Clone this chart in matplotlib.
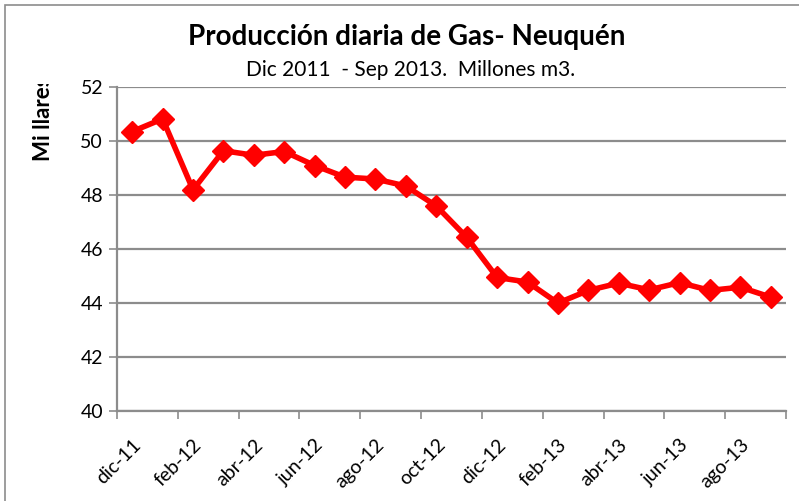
import numpy as np
import matplotlib.pyplot as plt
from matplotlib.patches import Rectangle
from matplotlib.transforms import Bbox

# monthly data dic-11 .. sep-13
months = ['dic-11', 'ene-12', 'feb-12', 'mar-12', 'abr-12', 'may-12', 'jun-12',
          'jul-12', 'ago-12', 'sep-12', 'oct-12', 'nov-12', 'dic-12', 'ene-13',
          'feb-13', 'mar-13', 'abr-13', 'may-13', 'jun-13', 'jul-13', 'ago-13', 'sep-13']
gas = [50.36, 50.83, 48.20, 49.65, 49.48, 49.62, 49.10, 48.67, 48.60, 48.34, 47.60,
       46.44, 44.95, 44.78, 44.00, 44.47, 44.74, 44.49, 44.76, 44.47, 44.59, 44.22]
yticks = [40, 42, 44, 46, 48, 50, 52]

plt.rcParams['font.family'] = ['Lato', 'DejaVu Sans']

W, H = 799, 501
fig = plt.figure(figsize=(W / 100, H / 100), dpi=100)
fig.patches.append(Rectangle((5 / W, -0.1), 1.2, 1 - 5 / H + 0.1, transform=fig.transFigure,
                             fill=False, edgecolor='#8c8c8c', linewidth=1.2))

ax = fig.add_axes([117 / W, 1 - 411 / H, (786 - 117) / W, (411 - 87.3) / H])
x = np.arange(len(months))
ax.plot(x, gas, color='#ff0000', linewidth=4, marker='D', markersize=11,
        markeredgecolor='#ff0000', zorder=3)

ax.set_xlim(-0.5, len(months) - 0.5)
ax.set_ylim(40, 52)
ax.set_yticks(yticks)
ax.set_yticklabels([str(v) for v in yticks], fontsize=14)
ax.grid(axis='y', color='#8c8c8c', linewidth=1.6)
ax.set_axisbelow(True)

ax.set_xticks(x[::2])
ax.set_xticklabels(months[::2], rotation=45, ha='right', rotation_mode='anchor', fontsize=14)
ax.tick_params(axis='x', which='major', length=0, pad=18)
ax.set_xticks(np.arange(-0.5, len(months), 2), minor=True)
ax.tick_params(axis='x', which='minor', length=6, width=1.2, color='#8c8c8c', direction='out')
ax.tick_params(axis='y', length=6, width=1.2, color='#8c8c8c', direction='out', pad=4)

for s in ['top', 'right']:
    ax.spines[s].set_visible(False)
for s in ['left', 'bottom']:
    ax.spines[s].set_color('#8c8c8c')
    ax.spines[s].set_linewidth(1.6)

fig.text(407 / W, 1 - 37 / H, 'Producción diaria de Gas- Neuquén', ha='center', va='center',
         fontsize=20, fontweight='bold')
fig.text(411 / W, 1 - 70 / H, 'Dic 2011  - Sep 2013.  Millones m3.', ha='center', va='center',
         fontsize=15)

# axis title is cut off at the top in the original
yl = fig.text(44 / W, 1 - 161 / H, 'Mi llares', rotation=90, ha='center', va='bottom',
              fontsize=16, fontweight='bold')
yl.set_clip_box(Bbox.from_extents(0, 0, W, H - 84))
yl.set_clip_on(True)

fig.savefig('out.png', dpi=100)
